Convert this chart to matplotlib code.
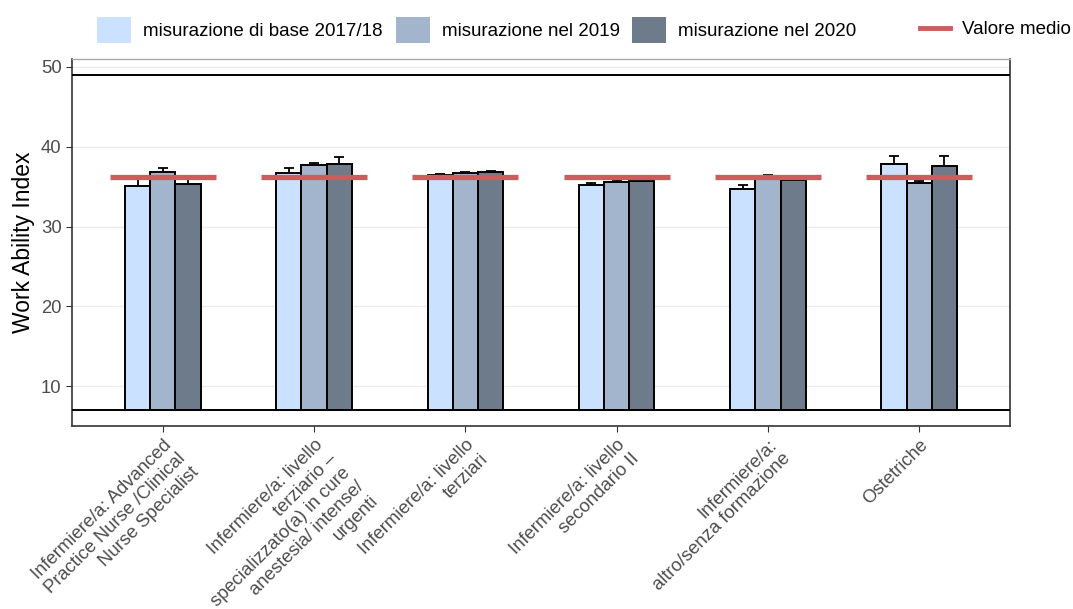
import numpy as np
import matplotlib
matplotlib.use("Agg")
import matplotlib.pyplot as plt
from matplotlib.patches import Patch
from matplotlib.lines import Line2D

# data
categories = [
    "Infermiere/a: Advanced\nPractice Nurse /Clinical\nNurse Specialist",
    "Infermiere/a: livello\nterziario –\nspecializzato(a) in cure\nanestesia/ intense/\nurgenti",
    "Infermiere/a: livello\nterziari",
    "Infermiere/a: livello\nsecondario II",
    "Infermiere/a:\naltro/senza formazione",
    "Ostetriche",
]
series_names = ["misurazione di base 2017/18", "misurazione nel 2019", "misurazione nel 2020"]
base_2017 = [35.1, 36.7, 36.5, 35.25, 34.7, 37.9]
year_2019 = [36.9, 37.7, 36.7, 35.6, 36.2, 35.4]
year_2020 = [35.3, 37.8, 36.9, 35.7, 35.8, 37.55]
err_2017 = [0.8, 0.6, 0.1, 0.2, 0.5, 0.9]
err_2019 = [0.5, 0.3, 0.1, 0.2, 0.3, 0.35]
err_2020 = [0.6, 0.95, 0.1, 0.2, 0.1, 1.25]
mean_value = 36.25
wai_min, wai_max = 7, 49

colors = ["#CAE1FF", "#A2B5CD", "#6E7B8B"]
red = "#CD5C5C"

plt.rcParams["font.family"] = ["Liberation Sans", "DejaVu Sans"]

fig = plt.figure(figsize=(10.73, 6.09), dpi=100)
ax = fig.add_axes([0.0671, 0.3005, 0.8742, 0.6026])

x = np.arange(len(categories))
w = 1 / 6
values = [base_2017, year_2019, year_2020]
errs = [err_2017, err_2019, err_2020]
for i, (vals, err) in enumerate(zip(values, errs)):
    pos = x + (i - 1) * w
    heights = np.array(vals) - wai_min
    ax.errorbar(pos, vals, yerr=err, fmt="none", ecolor="black", elinewidth=1.3,
                capsize=3.6, capthick=1.3, zorder=2)
    ax.bar(pos, heights, width=w, bottom=wai_min, color=colors[i],
           edgecolor="black", linewidth=1.4, zorder=3)

ax.hlines([mean_value] * len(x), x - 0.35, x + 0.35, colors=red, linewidth=3.8, zorder=4)
ax.axhline(wai_min, color="black", linewidth=1.4, zorder=5)
ax.axhline(wai_max, color="black", linewidth=1.4, zorder=5)

ax.set_xlim(-0.6, len(categories) - 0.4)
ax.set_ylim(5, 51)
ax.set_yticks([10, 20, 30, 40, 50])
ax.set_xticks(x)
ax.set_xticklabels(categories, rotation=45, ha="right", rotation_mode="anchor",
                   fontsize=13.3, color="#4D4D4D")
ax.tick_params(axis="y", labelsize=13.3, labelcolor="#4D4D4D", color="#333333", length=4)
ax.tick_params(axis="x", color="#333333", length=4)
ax.set_ylabel("Work Ability Index", fontsize=16.5)
ax.yaxis.grid(True, color="#EBEBEB", linewidth=1.0, zorder=0)
ax.set_axisbelow(True)

for s in ["left", "bottom", "right"]:
    ax.spines[s].set_color("#333333")
    ax.spines[s].set_linewidth(1.2)
ax.spines["top"].set_color("#AAAAAA")
ax.spines["top"].set_linewidth(1.0)

handles = [Patch(facecolor=c, edgecolor="none") for c in colors]
fig.legend(handles, series_names, loc="center", bbox_to_anchor=(0.4445, 0.951), ncol=3,
           frameon=False, fontsize=13.5, handlelength=1.81, handleheight=1.81,
           handletextpad=0.64, columnspacing=0.69)
fig.legend([Line2D([0], [0], color=red, linewidth=3.5)], ["Valore medio"], loc="center",
           bbox_to_anchor=(0.928, 0.951), frameon=False, fontsize=13.5,
           handlelength=1.6, handletextpad=0.64)

fig.savefig("out.png", dpi=100)
